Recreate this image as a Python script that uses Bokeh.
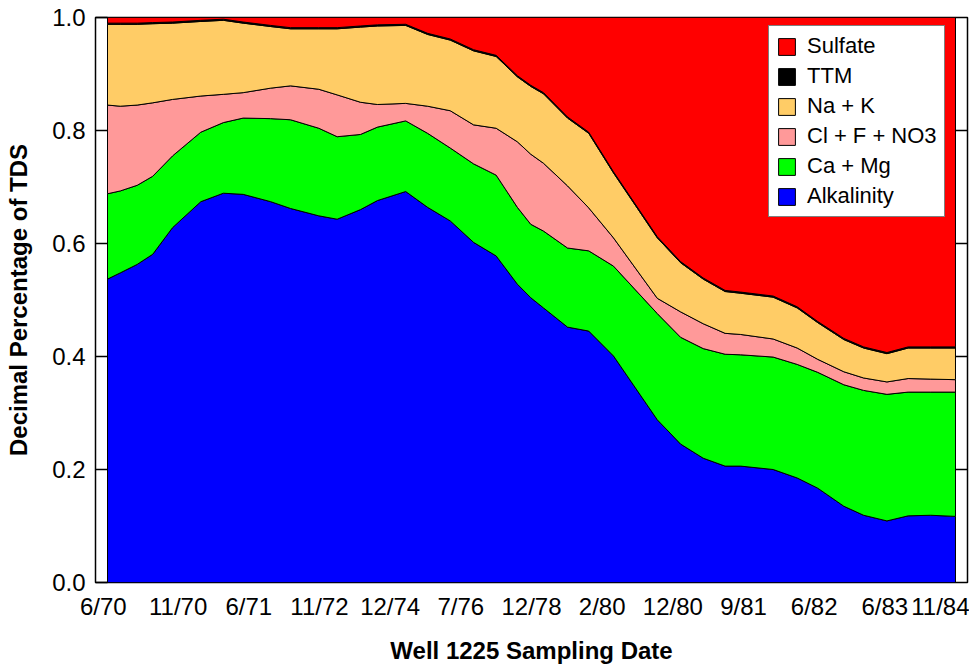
import numpy as np
from bokeh.plotting import figure
from bokeh.models import (Range1d, LinearAxis, FixedTicker, PrintfTickFormatter,
                          Legend, LegendItem)
from bokeh.embed import file_html
from bokeh.resources import INLINE

# ---------------- data ----------------
tick_labels = ["6/70", "11/70", "6/71", "11/72", "12/74", "7/76", "12/78",
               "2/80", "12/80", "9/81", "6/82", "6/83", "11/84"]

# sample positions on the (equally spaced) date-label axis
x = [0.00, 0.18, 0.42, 0.64, 0.92, 1.32, 1.64, 1.92, 2.31, 2.59, 2.99, 3.25,
     3.58, 3.82, 4.22, 4.53, 4.85, 5.18, 5.50, 5.80, 5.99, 6.17, 6.51, 6.81,
     7.16, 7.78, 8.11, 8.43, 8.74, 8.96, 9.42, 9.76, 10.05, 10.42, 10.70,
     11.03, 11.33, 11.65, 12.00]

alkalinity = [0.537, 0.548, 0.563, 0.581, 0.628, 0.674, 0.689, 0.687, 0.674,
              0.662, 0.649, 0.643, 0.660, 0.676, 0.692, 0.664, 0.640, 0.602,
              0.578, 0.528, 0.504, 0.486, 0.452, 0.445, 0.401, 0.288, 0.245,
              0.220, 0.206, 0.206, 0.200, 0.185, 0.167, 0.135, 0.119, 0.109,
              0.118, 0.119, 0.117]

ca_mg = [0.151, 0.145, 0.140, 0.138, 0.127, 0.123, 0.125, 0.135, 0.147, 0.157,
         0.155, 0.146, 0.133, 0.130, 0.125, 0.131, 0.129, 0.139, 0.143, 0.136,
         0.130, 0.136, 0.140, 0.142, 0.159, 0.188, 0.189, 0.194, 0.198, 0.197,
         0.199, 0.201, 0.205, 0.215, 0.221, 0.224, 0.219, 0.218, 0.220]

cl_f_no3 = [0.157, 0.150, 0.142, 0.130, 0.100, 0.064, 0.050, 0.045, 0.054,
            0.060, 0.069, 0.074, 0.057, 0.040, 0.031, 0.048, 0.066, 0.069,
            0.083, 0.116, 0.124, 0.120, 0.110, 0.076, 0.050, 0.027, 0.045,
            0.044, 0.037, 0.036, 0.032, 0.029, 0.023, 0.023, 0.022, 0.022,
            0.024, 0.023, 0.022]

na_k = [0.143, 0.145, 0.143, 0.140, 0.135, 0.132, 0.131, 0.123, 0.109, 0.101,
        0.107, 0.117, 0.133, 0.139, 0.138, 0.127, 0.125, 0.131, 0.127, 0.115,
        0.120, 0.123, 0.120, 0.132, 0.115, 0.107, 0.087, 0.079, 0.074, 0.073,
        0.074, 0.071, 0.065, 0.057, 0.053, 0.050, 0.054, 0.055, 0.056]

ttm = [0.002] * 39

sulfate = [0.010, 0.010, 0.010, 0.009, 0.008, 0.005, 0.003, 0.008, 0.014,
           0.018, 0.018, 0.018, 0.015, 0.013, 0.012, 0.028, 0.038, 0.057,
           0.067, 0.103, 0.120, 0.133, 0.176, 0.203, 0.273, 0.388, 0.432,
           0.461, 0.483, 0.486, 0.493, 0.512, 0.538, 0.568, 0.583, 0.593,
           0.583, 0.583, 0.583]

series_names = ["Alkalinity", "Ca + Mg", "Cl + F + NO3", "Na + K", "TTM", "Sulfate"]
series_values = [alkalinity, ca_mg, cl_f_no3, na_k, ttm, sulfate]
series_colors = ["#0000FF", "#00FF00", "#FF9999", "#FFCC66", "#000000", "#FF0000"]

# ---------------- figure ----------------
FONT = "Liberation Sans"

p = figure(frame_width=872, frame_height=565, output_backend="svg",
           toolbar_location=None,
           x_range=Range1d(-0.17, 12.17), y_range=Range1d(0, 1),
           min_border_left=95, min_border_right=2, min_border_top=17,
           min_border_bottom=82)
p.background_fill_color = "white"
p.border_fill_color = "white"
p.outline_line_color = "black"
p.outline_line_width = 1.5
p.xgrid.visible = False
p.ygrid.visible = False

xs = np.array(x, dtype=float)
bottom = np.zeros(len(xs))
renderers = {}
for name, vals, col in zip(series_names, series_values, series_colors):
    top = bottom + np.array(vals, dtype=float)
    px = np.concatenate([xs, xs[::-1]])
    py = np.concatenate([top, bottom[::-1]])
    r = p.patch(px, py, fill_color=col, line_color="black", line_width=1)
    renderers[name] = r
    bottom = top

# x axis
xa = p.xaxis[0]
tick_pos = [float(i) for i in range(len(tick_labels))]
tick_pos[0] = -0.06
tick_pos[-1] = 11.8
xa.ticker = FixedTicker(ticks=tick_pos)
xa.major_label_overrides = {t: lab for t, lab in zip(tick_pos, tick_labels)}
xa.major_tick_in = 0
xa.major_tick_out = 0
xa.minor_tick_line_color = None
xa.axis_line_color = None
xa.major_label_standoff = 10
xa.major_label_text_font = FONT
xa.major_label_text_font_size = "24px"
xa.major_label_text_color = "black"
xa.axis_label = "Well 1225 Sampling Date"
xa.axis_label_text_font = FONT
xa.axis_label_text_font_style = "bold"
xa.axis_label_text_font_size = "24px"
xa.axis_label_text_color = "black"
xa.axis_label_standoff = 14

# y axis
ya = p.yaxis[0]
ya.ticker = FixedTicker(ticks=[0.0, 0.2, 0.4, 0.6, 0.8, 1.0])
ya.formatter = PrintfTickFormatter(format="%.1f")
ya.major_tick_in = 12
ya.major_tick_out = 0
ya.major_tick_line_color = "black"
ya.major_tick_line_width = 1.5
ya.minor_tick_line_color = None
ya.axis_line_color = "black"
ya.major_label_standoff = 10
ya.major_label_text_font = FONT
ya.major_label_text_font_size = "24px"
ya.major_label_text_color = "black"
ya.axis_label = "Decimal Percentage of TDS"
ya.axis_label_text_font = FONT
ya.axis_label_text_font_style = "bold"
ya.axis_label_text_font_size = "24px"
ya.axis_label_text_color = "black"
ya.axis_label_standoff = 17

ra = LinearAxis(ticker=FixedTicker(ticks=[0.2, 0.4, 0.6, 0.8]))
ra.major_tick_in = 12
ra.major_tick_out = 0
ra.major_tick_line_color = "black"
ra.major_tick_line_width = 1.5
ra.minor_tick_line_color = None
ra.axis_line_color = "black"
ra.major_label_text_font_size = "0px"
ra.major_label_text_color = None
ra.major_label_standoff = 0
p.add_layout(ra, "right")

# legend
order = ["Sulfate", "TTM", "Na + K", "Cl + F + NO3", "Ca + Mg", "Alkalinity"]
items = [LegendItem(label=n, renderers=[renderers[n]]) for n in order]
legend = Legend(items=items, location=(673, 365))
legend.border_line_color = "black"
legend.border_line_width = 1.5
legend.background_fill_color = "white"
legend.background_fill_alpha = 1.0
legend.label_text_font = FONT
legend.label_text_font_size = "22px"
legend.label_text_color = "black"
legend.glyph_width = 21
legend.glyph_height = 21
legend.spacing = 4
legend.padding = 7
legend.label_standoff = 10
legend.margin = 0
p.add_layout(legend)

open("out.html", "w").write(file_html(p, INLINE))
